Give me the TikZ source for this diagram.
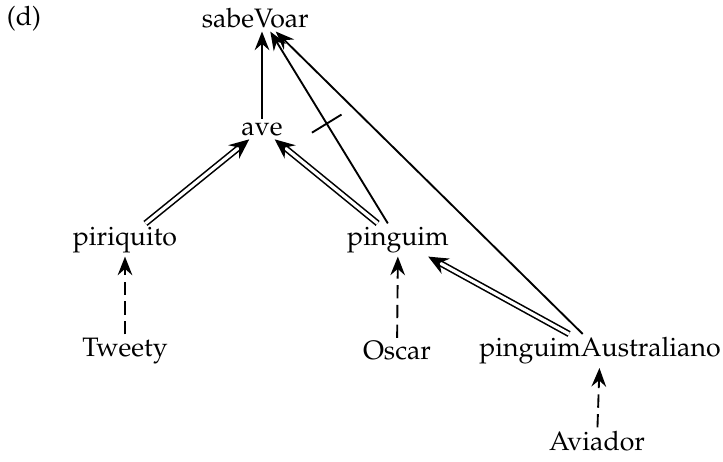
\documentclass[tikz,border=0pt]{standalone}
\usepackage[T1]{fontenc}
\usepackage{mathpazo}
\usetikzlibrary{arrows.meta,calc}

\begin{document}
\begin{tikzpicture}[x=0.375pt,y=-0.375pt,line width=0.7pt,
  every node/.style={inner sep=1pt,font=\fontsize{10}{12}\selectfont},
  isa/.style={-{Stealth[length=7pt,width=5.5pt,inset=2.4pt]}},
  inst/.style={isa,dash pattern=on 5pt off 2.4pt},
  sub/.style={double,double distance=1.2pt,line width=0.6pt,-{Stealth[length=7.5pt,width=6.5pt,inset=2.6pt]}}]
%\draw[help lines,step=50](0,0)grid(723,462);
\useasboundingbox(0,0)rectangle(723,462);
\node(label)at(24,19){(d)};
\node(sabeVoar)at(262,18){sabeVoar\hspace*{5pt}};
\node(ave)at(262,129){ave};
\node(piriquito)at(125,240){piriquito};
\node(pinguim)at(398,240){pinguim};
\node(Tweety)at(125,351){Tweety};
\node(Oscar)at(397,351){Oscar};
\node(pinguimAustraliano)at(600,351){pinguimAustraliano};
\node(Aviador)at(597,441){Aviador};

\draw[isa](ave)--(sabeVoar);
\draw[isa](pinguim)--coordinate[pos=0.52](cut)(sabeVoar);
\draw($(cut)!6.5pt!90:(sabeVoar)$)--($(cut)!6.5pt!-90:(sabeVoar)$);
\draw[isa](pinguimAustraliano)--(sabeVoar);
\draw[sub](piriquito)--(ave);
\draw[sub](pinguim)--(ave);
\draw[sub](pinguimAustraliano)--(pinguim);
\draw[inst](Tweety)--(piriquito);
\draw[inst](Oscar)--(pinguim);
\draw[inst](Aviador)--(pinguimAustraliano);
\end{tikzpicture}
\end{document}
